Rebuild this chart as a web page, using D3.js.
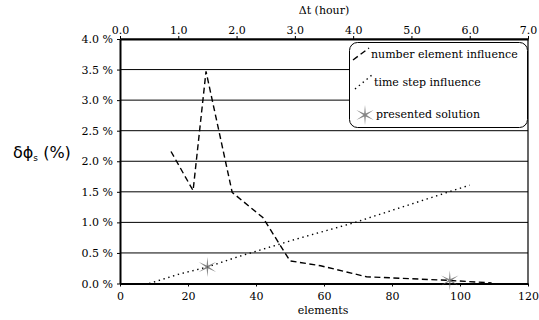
<!DOCTYPE html>
<html>
<head>
<meta charset="utf-8">
<script src="https://cdn.jsdelivr.net/npm/d3@7"></script>
<style>
  body { margin: 0; background: #fff; }
  svg { display: block; }
  .serif { font-family: "DejaVu Serif", serif; font-size: 11px; fill: #000; }
</style>
</head>
<body>
<svg id="chart" width="539" height="320"></svg>
<script>
// number element influence (elements vs error %)
const elemCounts = [15, 21.5, 25.3, 33, 42, 50, 59, 72.5, 97, 109.3];
const elemError  = [2.16, 1.52, 3.47, 1.49, 1.08, 0.37, 0.29, 0.11, 0.05, 0.01];

// time step influence (hours vs error %)
const stepHours = [0.5, 1.0, 1.5, 2.0, 3.0, 4.0, 5.0, 6.0];
const stepError = [0.0, 0.15, 0.27, 0.43, 0.72, 0.99, 1.30, 1.61];

// presented solutions
const starTime = [1.5],   starTimeErr = [0.27];
const starElem = [97],    starElemErr = [0.05];

const yTicks = [0, 0.5, 1, 1.5, 2, 2.5, 3, 3.5, 4];
const elemTicks = [0, 20, 40, 60, 80, 100, 120];
const hourTicks = [0, 1, 2, 3, 4, 5, 6, 7];

const svg = d3.select("#chart");
const plotLeft = 120, plotRight = 528, plotTop = 39, plotBottom = 283.5;

const xE = d3.scaleLinear().domain([0, 120]).range([plotLeft, plotRight]);
const xT = d3.scaleLinear().domain([0, 7]).range([plotLeft, plotRight]);
const y = d3.scaleLinear().domain([0, 4]).range([plotBottom, plotTop]);

// horizontal grid lines
svg.append("g").selectAll("line")
    .data(yTicks)
    .join("line")
    .attr("x1", plotLeft).attr("x2", plotRight)
    .attr("y1", d => y(d)).attr("y2", d => y(d))
    .attr("stroke", "#000").attr("stroke-width", 1);

// right border
svg.append("line")
    .attr("x1", plotRight).attr("x2", plotRight)
    .attr("y1", plotTop).attr("y2", plotBottom)
    .attr("stroke", "#000").attr("stroke-width", 1.2);

// axes
const axBottom = svg.append("g")
    .attr("transform", "translate(0," + plotBottom + ")")
    .call(d3.axisBottom(xE).tickValues(elemTicks).tickFormat(d3.format("d")).tickSize(3).tickSizeOuter(0));
const axTop = svg.append("g")
    .attr("transform", "translate(0," + plotTop + ")")
    .call(d3.axisTop(xT).tickValues(hourTicks).tickFormat(d3.format(".1f")).tickSize(3).tickSizeOuter(0));
const axLeft = svg.append("g")
    .attr("transform", "translate(" + plotLeft + ",0)")
    .call(d3.axisLeft(y).tickValues(yTicks).tickFormat(d => d3.format(".1f")(d) + " %").tickSize(3).tickSizeOuter(0));

[axBottom, axTop, axLeft].forEach(a => {
    a.attr("font-family", null).attr("font-size", null);
    a.select(".domain").attr("stroke-width", 2);
    a.selectAll(".tick line").attr("stroke-width", 1);
    a.selectAll(".tick text").attr("class", "serif");
});
axBottom.selectAll(".tick text").attr("dy", "0.95em");
axTop.selectAll(".tick text").attr("dy", "0.05em");
axLeft.selectAll(".tick text").attr("dx", "-1px");

// curves
const lineE = d3.line().x(d => xE(d[0])).y(d => y(d[1]));
const lineT = d3.line().x(d => xT(d[0])).y(d => y(d[1]));

svg.append("path")
    .datum(d3.zip(elemCounts, elemError))
    .attr("d", lineE)
    .attr("fill", "none")
    .attr("stroke", "#000")
    .attr("stroke-width", 1.4)
    .attr("stroke-dasharray", "6,3.5");

svg.append("path")
    .datum(d3.zip(stepHours, stepError))
    .attr("d", lineT)
    .attr("fill", "none")
    .attr("stroke", "#000")
    .attr("stroke-width", 1.4)
    .attr("stroke-dasharray", "1.4,3.6");

// thin six point star
function starPath(r1, r2) {
    const pts = d3.range(12).map(i => {
        const a = -Math.PI / 2 + i * Math.PI / 6;
        const r = i % 2 === 0 ? r1 : r2;
        return [Math.cos(a) * r, Math.sin(a) * r];
    });
    return "M" + pts.join("L") + "Z";
}

const stars = d3.zip(starTime, starTimeErr).map(d => [xT(d[0]), y(d[1])])
    .concat(d3.zip(starElem, starElemErr).map(d => [xE(d[0]), y(d[1])]));

svg.append("g").selectAll("path")
    .data(stars)
    .join("path")
    .attr("transform", d => "translate(" + d[0] + "," + d[1] + ")")
    .attr("d", starPath(10, 1.6))
    .attr("fill", "#666")
    .attr("fill-opacity", 0.8);

// axis titles
svg.append("text")
    .attr("class", "serif")
    .attr("x", 324).attr("y", 14)
    .attr("text-anchor", "middle")
    .text("Δt (hour)");

svg.append("text")
    .attr("class", "serif")
    .attr("x", 323).attr("y", 314)
    .attr("text-anchor", "middle")
    .text("elements");

const yl = svg.append("text")
    .attr("x", 13).attr("y", 158)
    .style("font-family", "'DejaVu Sans', sans-serif").style("font-size", "16px");
yl.append("tspan").text("δϕ");
yl.append("tspan").attr("dy", 3).style("font-size", "9px").text("s");
yl.append("tspan").attr("dy", -3).text(" (%)");

// legend
const lg = svg.append("g");
lg.append("rect")
    .attr("x", 349.5).attr("y", 42.5)
    .attr("width", 178).attr("height", 85)
    .attr("rx", 8).attr("ry", 8)
    .attr("fill", "#fff").attr("stroke", "#000").attr("stroke-width", 1);

lg.append("line")
    .attr("x1", 353).attr("y1", 60).attr("x2", 369).attr("y2", 48)
    .attr("stroke", "#000").attr("stroke-width", 1.4).attr("stroke-dasharray", "6,3.5");
lg.append("line")
    .attr("x1", 355).attr("y1", 89).attr("x2", 372).attr("y2", 75)
    .attr("stroke", "#000").attr("stroke-width", 1.4).attr("stroke-dasharray", "1.4,3.6");
lg.append("path")
    .attr("transform", "translate(365,115)")
    .attr("d", starPath(10, 1.6))
    .attr("fill", "#666").attr("fill-opacity", 0.8);

const legendText = [["number element influence", 371, 58],
                    ["time step influence", 374, 86],
                    ["presented solution", 376, 118]];
lg.selectAll("text.lt")
    .data(legendText)
    .join("text")
    .attr("class", "lt serif")
    .attr("x", d => d[1]).attr("y", d => d[2])
    .text(d => d[0]);
</script>
</body>
</html>
